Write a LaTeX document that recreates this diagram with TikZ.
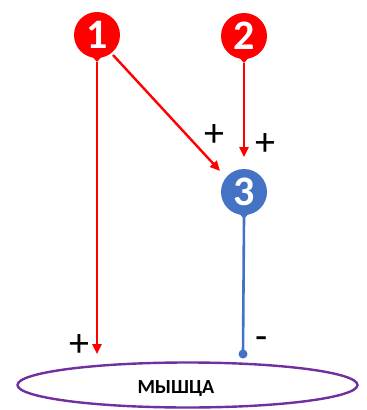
\documentclass[tikz,border=0pt]{standalone}
\usepackage{fontspec}
\setmainfont{Carlito}
\usetikzlibrary{shapes.geometric,arrows.meta}
\definecolor{myred}{HTML}{FF0000}
\definecolor{myblue}{HTML}{4472C4}
\definecolor{mypurple}{HTML}{7030A0}
\tikzset{
  balloon/.style={circle,fill=#1,minimum size=46pt,inner sep=0pt,text=white,font=\fontsize{42}{42}\selectfont\bfseries},
  redline/.style={draw=myred,line width=2.4pt,-{Triangle[length=10pt,width=9pt]}},
  blueline/.style={draw=myblue,line width=2.6pt},
  sign/.style={font=\fontsize{40}{40}\selectfont,inner sep=0pt},
}
\begin{document}
\begin{tikzpicture}[x=1pt,y=-1pt]
\useasboundingbox (0,0) rectangle (367,410);
% balloons
\node[balloon=myred] (n1) at (97,35) {1};
\fill[myred] (91,55) -- (97,62) -- (103,55) -- cycle;
\node[balloon=myred] (n2) at (244,36) {2};
\fill[myred] (238,56) -- (244,63) -- (250,56) -- cycle;
\node[balloon=myblue] (n3) at (244,192) {3};
\fill[myblue] (238,212) -- (244,219) -- (250,212) -- cycle;
% muscle
\node[ellipse,draw=mypurple,line width=2.4pt,minimum width=340pt,minimum height=45pt] (m) at (187.5,385) {};
\node[font=\fontsize{20}{20}\selectfont\bfseries,inner sep=0pt] (mt) at (176,389) {МЫШЦА};
% coordinates
\coordinate (t1) at (97,354);
\coordinate (t13) at (220,171);
\coordinate (t2) at (244,157);
\coordinate (d3) at (243,354);
% connectors
\draw[redline] (n1.south) ++(0,4) -- (t1);
\draw[redline] (n1) ++(16,20) -- (t13);
\draw[redline] (n2.south) ++(0,4) -- (t2);
\draw[blueline] (n3.south) ++(0,3) -- (d3);
\fill[myblue] (d3) circle (4.5pt);
% signs
\node[sign] (p1) at (214,136) {+};
\node[sign] (p2) at (265,145) {+};
\node[sign] (p3) at (79,345) {+};
\node[sign] (p4) at (262,343) {-};
\end{tikzpicture}
\end{document}
